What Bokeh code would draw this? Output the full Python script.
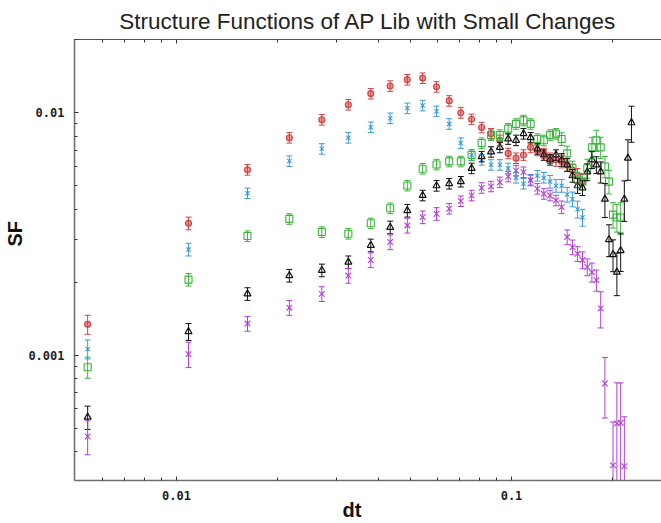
from bokeh.plotting import figure
from bokeh.models import (ColumnDataSource, Whisker, TeeHead, LogAxis, FixedTicker,
                          Range1d, PrintfTickFormatter, Title)
from bokeh.embed import file_html
from bokeh.resources import INLINE

# ---------------- data ----------------
dt = [0.00543, 0.01086, 0.01629, 0.02172, 0.02715, 0.03258, 0.03801, 0.04344, 0.04887, 0.0543,
      0.05973, 0.06516, 0.07059, 0.07602, 0.08145, 0.08688, 0.09231, 0.09774, 0.10317, 0.1086,
      0.11403, 0.11946, 0.12489, 0.13032, 0.13575, 0.14118, 0.14661, 0.15204, 0.15747, 0.1629,
      0.16833, 0.17376, 0.17919, 0.18462, 0.19005, 0.19548, 0.20091, 0.20634, 0.21177, 0.2172,
      0.22263, 0.22806]

sf_red = [0.00134, 0.00350, 0.00582, 0.00789, 0.00936, 0.0108, 0.0120, 0.0129, 0.0137, 0.0139,
          0.0128, 0.0112, 0.0100, 0.0094, 0.0087, 0.0082, 0.0077, 0.0068, 0.0065, 0.0067,
          0.0072, 0.0070, 0.0068, 0.0065, 0.0064, 0.0063, 0.0061, 0.0058, 0.0055, 0.0052]
err_red = [0.09, 0.06, 0.05, 0.05, 0.05, 0.05, 0.05, 0.05, 0.05, 0.05,
           0.05, 0.05, 0.05, 0.05, 0.05, 0.05, 0.05, 0.05, 0.05, 0.05,
           0.05, 0.05, 0.05, 0.05, 0.06, 0.06, 0.06, 0.06, 0.07, 0.07]

sf_blue = [0.00106, 0.00273, 0.00466, 0.00632, 0.00710, 0.00789, 0.00872, 0.00950, 0.01044, 0.01072,
           0.01015, 0.0090, 0.0075, 0.0067, 0.0064, 0.0061, 0.0061, 0.0059, 0.0054, 0.0051,
           0.0053, 0.0055, 0.0054, 0.0052, 0.0050, 0.0050, 0.0046, 0.0044, 0.0040, 0.0037]
err_blue = [0.09, 0.06, 0.05, 0.05, 0.05, 0.05, 0.05, 0.05, 0.05, 0.05,
            0.05, 0.05, 0.05, 0.05, 0.05, 0.05, 0.05, 0.05, 0.05, 0.05,
            0.05, 0.05, 0.05, 0.06, 0.06, 0.06, 0.07, 0.07, 0.08, 0.08]

sf_green = [0.000892, 0.00205, 0.00310, 0.00365, 0.00322, 0.00317, 0.00350, 0.00404, 0.00501, 0.00588,
            0.00612, 0.0063, 0.0063, 0.0067, 0.0075, 0.0081, 0.0081, 0.0086, 0.0090, 0.0093,
            0.0090, 0.0078, 0.0077, 0.0081, 0.0082, 0.0078, 0.0068, 0.0059, 0.0053, 0.0052,
            0.0059, 0.0072, 0.0077, 0.0072, 0.0060, 0.0052, 0.0038, 0.0037, 0.0037]
err_green = [0.10, 0.06, 0.05, 0.05, 0.05, 0.05, 0.05, 0.05, 0.05, 0.05,
             0.05, 0.05, 0.05, 0.05, 0.05, 0.05, 0.05, 0.05, 0.05, 0.05,
             0.05, 0.05, 0.05, 0.05, 0.05, 0.06, 0.07, 0.07, 0.07, 0.08,
             0.09, 0.10, 0.10, 0.10, 0.10, 0.11, 0.12, 0.13, 0.15]

sf_black = [0.000555, 0.00125, 0.00179, 0.00213, 0.00224, 0.00242, 0.00284, 0.00337, 0.00395, 0.00456,
            0.00500, 0.0051, 0.0052, 0.0059, 0.0066, 0.0069, 0.0072, 0.0078, 0.0077, 0.0082,
            0.0079, 0.0071, 0.0067, 0.0064, 0.0067, 0.0064, 0.0061, 0.0055, 0.0050, 0.0049,
            0.0057, 0.0064, 0.0061, 0.0057, 0.0044, 0.0030, 0.0026, 0.0022, 0.0027, 0.0044,
            0.0065, 0.0091]
err_black = [0.11, 0.08, 0.06, 0.06, 0.06, 0.06, 0.06, 0.06, 0.06, 0.05,
             0.05, 0.05, 0.05, 0.05, 0.05, 0.05, 0.05, 0.05, 0.05, 0.05,
             0.05, 0.05, 0.05, 0.05, 0.05, 0.06, 0.06, 0.06, 0.07, 0.07,
             0.08, 0.08, 0.08, 0.10, 0.16, 0.15, 0.15, 0.20, 0.18, 0.19,
             0.19, 0.17]

sf_purple = [0.000462, 0.00101, 0.00135, 0.00157, 0.00179, 0.00213, 0.00247, 0.00293, 0.00343, 0.00371,
             0.00383, 0.00402, 0.00432, 0.00456, 0.00490, 0.00497, 0.00517, 0.00546, 0.00578, 0.00569,
             0.00526, 0.00486, 0.00463, 0.00456, 0.00435, 0.00408, 0.00307, 0.00279, 0.00262, 0.00247,
             0.00231, 0.00220, 0.00204, 0.00156, 0.000764, None, 0.000351, 0.000523, 0.000526, 0.000348]
err_purple = [0.16, 0.12, 0.07, 0.07, 0.07, 0.07, 0.07, 0.07, 0.07, 0.06,
              0.06, 0.05, 0.05, 0.05, 0.05, 0.05, 0.05, 0.05, 0.05, 0.05,
              0.05, 0.05, 0.05, 0.05, 0.05, 0.06, 0.07, 0.07, 0.07, 0.08,
              0.08, 0.09, 0.10, 0.17, 0.28, None, 0.51, 0.47, 0.46, 0.60]

x_major = [0.01, 0.1]
x_minor = [0.006, 0.007, 0.008, 0.009, 0.02, 0.03, 0.04, 0.05, 0.06, 0.07, 0.08, 0.09, 0.2, 0.3]
y_major = [0.001, 0.01]
y_minor = [0.0003, 0.0004, 0.0005, 0.0006, 0.0007, 0.0008, 0.0009,
           0.002, 0.003, 0.004, 0.005, 0.006, 0.007, 0.008, 0.009, 0.02]

# ---------------- figure ----------------
p = figure(width=661, height=523, x_axis_type="log", y_axis_type="log",
           x_range=Range1d(0.00496, 0.2804), y_range=Range1d(0.000304, 0.02006),
           output_backend="svg", toolbar_location=None,
           min_border_left=74, min_border_right=0, min_border_top=39, min_border_bottom=43,
           background_fill_color="white", border_fill_color="white")
p.outline_line_color = None
p.xgrid.visible = False
p.ygrid.visible = False

p.title.text = "Structure Functions of AP Lib with Small Changes"
p.title.align = "center"
p.title.text_font = "Liberation Sans"
p.title.text_font_size = "22.5px"
p.title.text_font_style = "normal"
p.title.text_color = "#222222"
p.title.standoff = 12

def style_axis(ax, ticks, minor, labels=True):
    ax.ticker = FixedTicker(ticks=ticks, minor_ticks=minor)
    ax.axis_line_color = "#707070"
    ax.axis_line_width = 1.6
    ax.major_tick_line_color = "#333333"
    ax.minor_tick_line_color = "#333333"
    ax.major_tick_in = 4
    ax.major_tick_out = 0
    ax.minor_tick_in = 3
    ax.minor_tick_out = 0
    ax.formatter = PrintfTickFormatter(format="%g")
    if labels:
        ax.major_label_text_font = "DejaVu Sans Mono"
        ax.major_label_text_font_style = "bold"
        ax.major_label_text_font_size = "12px"
        ax.major_label_text_color = "#222222"
    else:
        ax.major_label_text_font_size = "2px"
        ax.major_label_text_color = None
        ax.major_label_standoff = 0

style_axis(p.xaxis[0], x_major, x_minor)
style_axis(p.yaxis[0], y_major, y_minor)
p.xaxis[0].major_label_standoff = 10
p.yaxis[0].major_label_standoff = 10

top = LogAxis()
style_axis(top, x_major, x_minor, labels=False)
top.axis_line_color = "#555555"
top.axis_line_width = 1.2
p.add_layout(top, "above")

# axis titles as side titles, offset from the frame's start edge
dt_title = Title(text="dt", align="left", offset=268, standoff=-12,
                 text_font="Liberation Sans", text_font_style="bold", text_font_size="20px",
                 text_color="#111111")
p.add_layout(dt_title, "below")
sf_title = Title(text="SF", align="left", offset=234, standoff=0,
                 text_font="Liberation Sans", text_font_style="bold", text_font_size="20px",
                 text_color="#111111")
p.add_layout(sf_title, "left")

def add_series(vals, errs, color, marker, size, fill_alpha=0.0, lw=1.1):
    xs, ys, lo, hi = [], [], [], []
    for x, v, e in zip(dt, vals, errs):
        if v is None:
            continue
        xs.append(x)
        ys.append(v)
        lo.append(v * (1 - e))
        hi.append(v * (1 + e))
    src = ColumnDataSource(dict(x=xs, y=ys, lo=lo, hi=hi))
    w = Whisker(source=src, base="x", upper="hi", lower="lo", dimension="height",
                line_color=color, line_width=1,
                upper_head=TeeHead(size=6, line_color=color, line_width=1),
                lower_head=TeeHead(size=6, line_color=color, line_width=1))
    w.level = "glyph"
    p.add_layout(w)
    p.scatter("x", "y", source=src, marker=marker, size=size, line_color=color,
              fill_color=color, fill_alpha=fill_alpha, line_width=lw)

add_series(sf_red, err_red, "#d04040", "circle", 6, fill_alpha=0.55)
add_series(sf_blue, err_blue, "#3a9ad8", "x", 6)
add_series(sf_green, err_green, "#3cb43c", "square", 7)
add_series(sf_black, err_black, "#111111", "triangle", 7, lw=1.2)
add_series(sf_purple, err_purple, "#b040d0", "x", 8)

open("out.html", "w").write(file_html(p, INLINE))
